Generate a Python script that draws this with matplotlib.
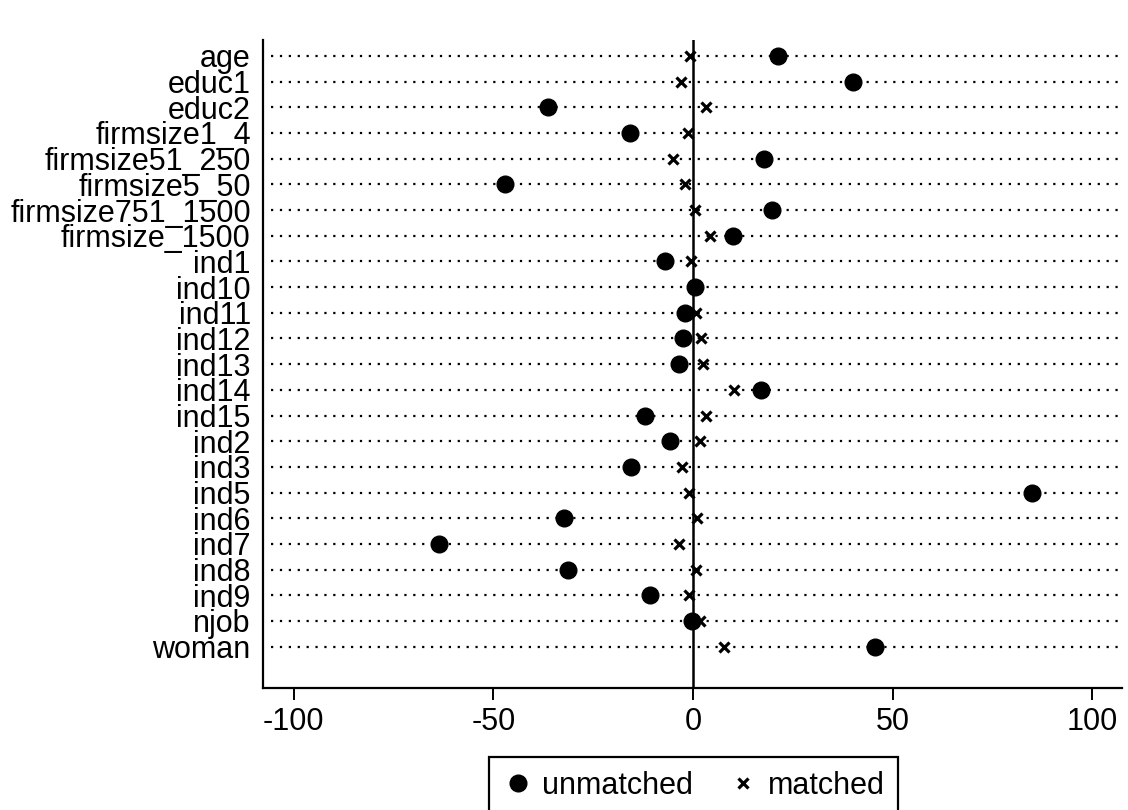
import numpy as np
import matplotlib.pyplot as plt
from matplotlib.lines import Line2D

plt.rcParams['font.family'] = ['Liberation Sans', 'DejaVu Sans']

# covariates and standardized % bias
variables = ['age', 'educ1', 'educ2', 'firmsize1_4', 'firmsize51_250', 'firmsize5_50',
             'firmsize751_1500', 'firmsize_1500', 'ind1', 'ind10', 'ind11', 'ind12',
             'ind13', 'ind14', 'ind15', 'ind2', 'ind3', 'ind5', 'ind6', 'ind7',
             'ind8', 'ind9', 'njob', 'woman']
unmatched = [21.2, 40.1, -36.3, -15.9, 17.8, -47.2, 19.7, 10.0, -7.0, 0.4, -2.0, -2.4,
             -3.6, 16.9, -12.0, -5.7, -15.6, 84.8, -32.2, -63.7, -31.4, -10.7, -0.3, 45.6]
matched = [-0.8, -2.9, 3.2, -1.2, -5.1, -1.9, 0.6, 4.2, -0.6, 0.2, 0.7, 2.1,
           2.4, 10.2, 3.2, 1.8, -2.7, -1.0, 1.0, -3.4, 0.7, -1.0, 1.8, 7.7]
xticks = [-100, -50, 0, 50, 100]

fs = 22
fig = plt.figure(figsize=(11.28, 8.10), dpi=100)
ax = fig.add_axes([0.2334, 0.1509, 0.9947 - 0.2334, 0.9506 - 0.1509])

y = np.arange(len(variables))
xmin, xmax = -107.6, 107.4

# dotted guide lines per row
ax.hlines(y, xmin + 2, xmax - 0.8, colors='black', linestyles=(0, (1, 3)), linewidth=1.6, zorder=1)
ax.axvline(0, color='black', linewidth=1.8, zorder=2)

ax.plot(unmatched, y, 'o', color='black', markersize=12, linestyle='none', zorder=3)
ax.plot(matched, y, 'x', color='black', markersize=7.5, markeredgewidth=2.3, linestyle='none', zorder=4)

ax.set_xlim(xmin, xmax)
ax.set_ylim(len(variables) - 1 + 1.6, -0.62)
ax.set_yticks(y)
ax.set_yticklabels(variables, fontsize=fs)
ax.set_xticks(xticks)
ax.set_xticklabels([str(v) for v in xticks], fontsize=fs)
ax.tick_params(axis='y', length=0, pad=9)
ax.tick_params(axis='x', length=8.5, width=1.4, pad=5, direction='out')

for side in ['top', 'right']:
    ax.spines[side].set_visible(False)
for side in ['left', 'bottom']:
    ax.spines[side].set_linewidth(1.6)

handles = [Line2D([], [], marker='o', color='black', linestyle='none', markersize=12),
           Line2D([], [], marker='x', color='black', linestyle='none', markersize=7.5, markeredgewidth=2.3)]
leg = fig.legend(handles, ['unmatched', 'matched'], loc='upper center',
                 bbox_to_anchor=(0.6148, 1 - 757 / 810), ncol=2, fontsize=fs,
                 frameon=True, fancybox=False, edgecolor='black', framealpha=1,
                 handletextpad=0.3, columnspacing=1.15, handlelength=1.0,
                 borderpad=0.45, borderaxespad=0)
leg.get_frame().set_linewidth(1.6)

fig.savefig('out.png', dpi=100)
